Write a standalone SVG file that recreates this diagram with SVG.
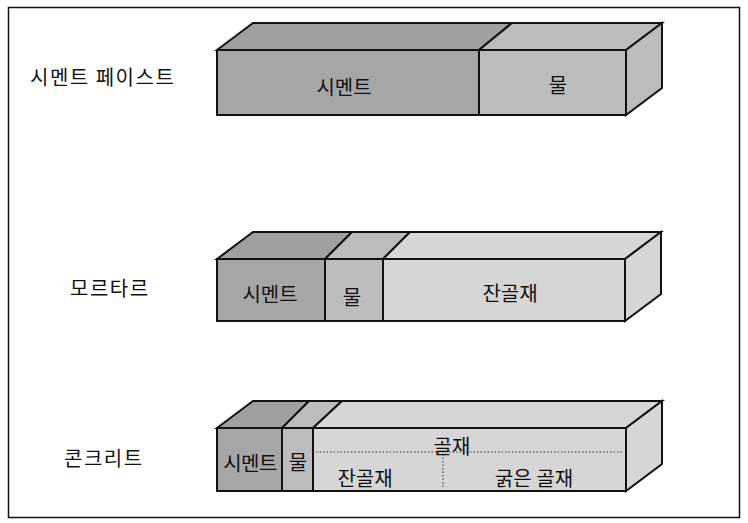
<svg xmlns="http://www.w3.org/2000/svg" width="748" height="523" viewBox="0 0 748 523">
<style>
.edge{stroke:#111;stroke-width:2;stroke-linejoin:miter}
.cem{fill:#a6a6a6}
.cemTop{fill:#a0a0a0}
.wat{fill:#bcbcbc}
.agg{fill:#d6d6d6}
.lbl{font-family:"Noto Sans CJK KR","Noto Sans",sans-serif;font-size:20px;fill:#111;text-anchor:middle;dominant-baseline:central}
.side{font-family:"Noto Sans CJK KR","Noto Sans",sans-serif;font-size:20px;fill:#111;dominant-baseline:central}
.dot{stroke:#333;stroke-width:1;stroke-dasharray:1.5 2;fill:none}
</style>
<rect x="8.5" y="7.5" width="731" height="510" fill="#fff" stroke="#111" stroke-width="1.5"/>

<g id="label-paste"><text class="side" x="30" y="76" letter-spacing="1.5">시멘트 페이스트</text></g>
<g id="label-mortar"><text class="side" x="70" y="287" letter-spacing="1.5">모르타르</text></g>
<g id="label-concrete"><text class="side" x="64" y="457" letter-spacing="1.5">콘크리트</text></g>

<g id="box-paste">
  <polygon class="cemTop edge" points="217,50 253,23 512,23 479,50"/>
  <polygon class="wat edge" points="479,50 512,23 662,23 626,50"/>
  <rect class="cem edge" x="217" y="50" width="262" height="65"/>
  <rect class="wat edge" x="479" y="50" width="147" height="65"/>
  <polygon class="wat edge" points="626,50 662,23 662,88 626,115"/>
  <text class="lbl" x="344" y="86">시멘트</text>
  <text class="lbl" x="558" y="84">물</text>
</g>

<g id="box-mortar">
  <polygon class="cemTop edge" points="217,259 253,232 352,232 325,259"/>
  <polygon class="wat edge" points="325,259 352,232 410,232 383,259"/>
  <polygon class="agg edge" points="383,259 410,232 661,232 625,259"/>
  <rect class="cem edge" x="217" y="259" width="108" height="62"/>
  <rect class="wat edge" x="325" y="259" width="58" height="62"/>
  <rect class="agg edge" x="383" y="259" width="242" height="62"/>
  <polygon class="agg edge" points="625,259 661,232 661,294 625,321"/>
  <text class="lbl" x="270" y="293">시멘트</text>
  <text class="lbl" x="352" y="296">물</text>
  <text class="lbl" x="510" y="292">잔골재</text>
</g>

<g id="box-concrete">
  <polygon class="cemTop edge" points="217,428 253,401 309,401 282,428"/>
  <polygon class="wat edge" points="282,428 309,401 342,401 313,428"/>
  <polygon class="agg edge" points="313,428 342,401 662,401 626,428"/>
  <rect class="cem edge" x="217" y="428" width="65" height="63"/>
  <rect class="wat edge" x="282" y="428" width="31" height="63"/>
  <rect class="agg edge" x="313" y="428" width="313" height="63"/>
  <polygon class="agg edge" points="626,428 662,401 662,464 626,491"/>
  <line class="dot" x1="316" y1="452" x2="624" y2="452"/>
  <line class="dot" x1="443" y1="454" x2="443" y2="489"/>
  <text class="lbl" x="250" y="462" font-size="19" letter-spacing="-0.5">시멘트</text>
  <text class="lbl" x="298" y="461">물</text>
  <text class="lbl" x="452" y="445">골재</text>
  <text class="lbl" x="365" y="477">잔골재</text>
  <text class="lbl" x="534" y="477">굵은 골재</text>
</g>
</svg>
